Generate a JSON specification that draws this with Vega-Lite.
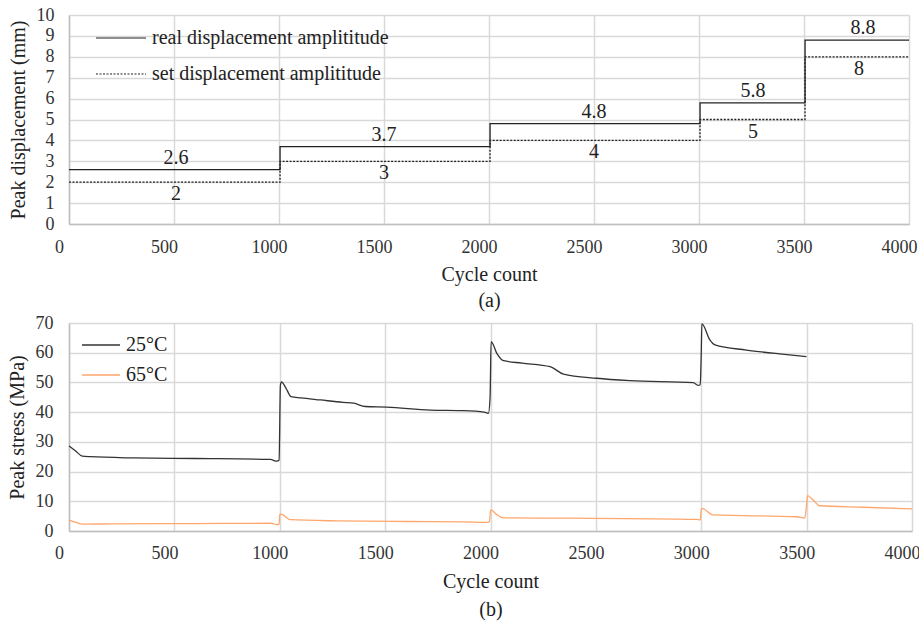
{
  "$schema": "https://vega.github.io/schema/vega-lite/v6.json",
  "background": "white",
  "padding": {"left": 7, "top": 6, "right": 2, "bottom": 5},
  "spacing": 4,
  "resolve": {"scale": {"color": "independent", "strokeDash": "independent"}, "legend": {"color": "independent", "strokeDash": "independent"}},
  "config": {
    "font": "Liberation Serif",
    "view": {"stroke": null},
    "text": {"font": "Liberation Serif"},
    "axis": {
      "labelFont": "Liberation Serif",
      "labelFontSize": 18,
      "labelColor": "#333333",
      "labelOverlap": false,
      "labelFlush": false,
      "format": "d",
      "titleFont": "Liberation Serif",
      "titleFontSize": 20,
      "titleFontWeight": "normal",
      "titleColor": "#222222",
      "gridColor": "#d9d9d9",
      "gridWidth": 1.5,
      "domainColor": "#bfbfbf",
      "domainWidth": 1.5,
      "ticks": false
    },
    "legend": {
      "labelFont": "Liberation Serif",
      "labelFontSize": 20,
      "labelColor": "#222222",
      "labelLimit": 500,
      "symbolType": "stroke",
      "padding": 0
    }
  },
  "vconcat": [
    {
      "width": 840,
      "height": 209,
      "encoding": {
        "x": {"field": "cycle", "type": "quantitative",
              "scale": {"domain": [0, 4000], "nice": false},
              "axis": {"values": [0, 500, 1000, 1500, 2000, 2500, 3000, 3500, 4000], "labelOffset": -10, "labelPadding": 14, "titlePadding": 8, "titleLineHeight": 26, "labelOverlap": false},
              "title": ["Cycle count", "(a)"]},
        "y": {"field": "disp", "type": "quantitative",
              "scale": {"domain": [0, 10], "nice": false},
              "axis": {"values": [0, 1, 2, 3, 4, 5, 6, 7, 8, 9, 10], "labelPadding": 15, "titlePadding": 8, "labelOverlap": false},
              "title": "Peak displacement (mm)"}
      },
      "layer": [
        {
          "data": {"values": [
            {"cycle": 0, "disp": 2.6, "series": "real displacement amplititude"},
            {"cycle": 1005, "disp": 3.7, "series": "real displacement amplititude"},
            {"cycle": 2005, "disp": 4.8, "series": "real displacement amplititude"},
            {"cycle": 3005, "disp": 5.8, "series": "real displacement amplititude"},
            {"cycle": 3505, "disp": 8.8, "series": "real displacement amplititude"},
            {"cycle": 4000, "disp": 8.8, "series": "real displacement amplititude"},
            {"cycle": 0, "disp": 2, "series": "set displacement amplititude"},
            {"cycle": 1005, "disp": 3, "series": "set displacement amplititude"},
            {"cycle": 2005, "disp": 4, "series": "set displacement amplititude"},
            {"cycle": 3005, "disp": 5, "series": "set displacement amplititude"},
            {"cycle": 3505, "disp": 8, "series": "set displacement amplititude"},
            {"cycle": 4000, "disp": 8, "series": "set displacement amplititude"}
          ]},
          "mark": {"type": "line", "interpolate": "step-after", "strokeWidth": 1.3},
          "encoding": {
            "color": {"field": "series", "type": "nominal",
                      "scale": {"domain": ["real displacement amplititude", "set displacement amplititude"], "range": ["#222222", "#222222"]},
                      "legend": {"title": null, "orient": "none", "legendX": 26, "legendY": -3, "symbolSize": 2500, "symbolStrokeWidth": 1.2, "rowPadding": -3, "labelOffset": 5}},
            "strokeDash": {"field": "series", "type": "nominal",
                      "scale": {"domain": ["real displacement amplititude", "set displacement amplititude"], "range": [[1, 0], [2, 1.5]]},
                      "legend": {"title": null, "orient": "none", "legendX": 26, "legendY": -3, "symbolSize": 2500, "symbolStrokeWidth": 1.2, "rowPadding": -3, "labelOffset": 5}}
          }
        },
        {
          "data": {"values": [
            {"cycle": 510, "disp": 2.6, "label": "2.6"},
            {"cycle": 1500, "disp": 3.7, "label": "3.7"},
            {"cycle": 2500, "disp": 4.8, "label": "4.8"},
            {"cycle": 3257, "disp": 5.8, "label": "5.8"},
            {"cycle": 3781, "disp": 8.8, "label": "8.8"}
          ]},
          "mark": {"type": "text", "dy": -12, "fontSize": 20, "font": "Liberation Serif", "color": "#222222", "baseline": "middle"},
          "encoding": {
            "text": {"field": "label", "type": "nominal"}
          }
        },
        {
          "data": {"values": [
            {"cycle": 510, "disp": 2, "label": "2"},
            {"cycle": 1500, "disp": 3, "label": "3"},
            {"cycle": 2500, "disp": 4, "label": "4"},
            {"cycle": 3257, "disp": 5, "label": "5"},
            {"cycle": 3762, "disp": 8, "label": "8"}
          ]},
          "mark": {"type": "text", "dy": 12, "fontSize": 20, "font": "Liberation Serif", "color": "#222222", "baseline": "middle"},
          "encoding": {
            "text": {"field": "label", "type": "nominal"}
          }
        }
      ]
    },
    {
      "width": 843,
      "height": 208,
      "data": {"values": [
        {"cycle": 0, "stress": 28.6, "temp": "25°C"},
        {"cycle": 30, "stress": 27.0, "temp": "25°C"},
        {"cycle": 63, "stress": 25.2, "temp": "25°C"},
        {"cycle": 100, "stress": 25.0, "temp": "25°C"},
        {"cycle": 300, "stress": 24.6, "temp": "25°C"},
        {"cycle": 600, "stress": 24.4, "temp": "25°C"},
        {"cycle": 956, "stress": 24.1, "temp": "25°C"},
        {"cycle": 985, "stress": 23.5, "temp": "25°C"},
        {"cycle": 997, "stress": 23.8, "temp": "25°C"},
        {"cycle": 1003, "stress": 49.0, "temp": "25°C"},
        {"cycle": 1008, "stress": 50.2, "temp": "25°C"},
        {"cycle": 1030, "stress": 48.0, "temp": "25°C"},
        {"cycle": 1054, "stress": 45.2, "temp": "25°C"},
        {"cycle": 1100, "stress": 44.8, "temp": "25°C"},
        {"cycle": 1193, "stress": 44.1, "temp": "25°C"},
        {"cycle": 1300, "stress": 43.3, "temp": "25°C"},
        {"cycle": 1351, "stress": 43.0, "temp": "25°C"},
        {"cycle": 1406, "stress": 41.9, "temp": "25°C"},
        {"cycle": 1509, "stress": 41.7, "temp": "25°C"},
        {"cycle": 1714, "stress": 40.7, "temp": "25°C"},
        {"cycle": 1872, "stress": 40.5, "temp": "25°C"},
        {"cycle": 1970, "stress": 40.0, "temp": "25°C"},
        {"cycle": 1990, "stress": 39.6, "temp": "25°C"},
        {"cycle": 1998, "stress": 45.0, "temp": "25°C"},
        {"cycle": 2003, "stress": 63.7, "temp": "25°C"},
        {"cycle": 2030, "stress": 59.8, "temp": "25°C"},
        {"cycle": 2062, "stress": 57.3, "temp": "25°C"},
        {"cycle": 2150, "stress": 56.5, "temp": "25°C"},
        {"cycle": 2283, "stress": 55.3, "temp": "25°C"},
        {"cycle": 2346, "stress": 52.8, "temp": "25°C"},
        {"cycle": 2504, "stress": 51.4, "temp": "25°C"},
        {"cycle": 2662, "stress": 50.6, "temp": "25°C"},
        {"cycle": 2962, "stress": 49.9, "temp": "25°C"},
        {"cycle": 2985, "stress": 49.0, "temp": "25°C"},
        {"cycle": 2995, "stress": 49.2, "temp": "25°C"},
        {"cycle": 3000, "stress": 60.0, "temp": "25°C"},
        {"cycle": 3003, "stress": 69.7, "temp": "25°C"},
        {"cycle": 3041, "stress": 64.3, "temp": "25°C"},
        {"cycle": 3065, "stress": 62.6, "temp": "25°C"},
        {"cycle": 3214, "stress": 60.9, "temp": "25°C"},
        {"cycle": 3372, "stress": 59.6, "temp": "25°C"},
        {"cycle": 3499, "stress": 58.7, "temp": "25°C"},
        {"cycle": 0, "stress": 3.7, "temp": "65°C"},
        {"cycle": 30, "stress": 3.0, "temp": "65°C"},
        {"cycle": 63, "stress": 2.3, "temp": "65°C"},
        {"cycle": 200, "stress": 2.4, "temp": "65°C"},
        {"cycle": 600, "stress": 2.5, "temp": "65°C"},
        {"cycle": 960, "stress": 2.6, "temp": "65°C"},
        {"cycle": 987, "stress": 2.1, "temp": "65°C"},
        {"cycle": 997, "stress": 2.3, "temp": "65°C"},
        {"cycle": 1000, "stress": 5.7, "temp": "65°C"},
        {"cycle": 1010, "stress": 5.6, "temp": "65°C"},
        {"cycle": 1050, "stress": 3.8, "temp": "65°C"},
        {"cycle": 1271, "stress": 3.4, "temp": "65°C"},
        {"cycle": 1600, "stress": 3.2, "temp": "65°C"},
        {"cycle": 1872, "stress": 3.1, "temp": "65°C"},
        {"cycle": 1985, "stress": 2.9, "temp": "65°C"},
        {"cycle": 1995, "stress": 3.2, "temp": "65°C"},
        {"cycle": 2001, "stress": 7.1, "temp": "65°C"},
        {"cycle": 2030, "stress": 5.5, "temp": "65°C"},
        {"cycle": 2062, "stress": 4.4, "temp": "65°C"},
        {"cycle": 2400, "stress": 4.3, "temp": "65°C"},
        {"cycle": 2978, "stress": 3.9, "temp": "65°C"},
        {"cycle": 2995, "stress": 3.7, "temp": "65°C"},
        {"cycle": 3000, "stress": 7.2, "temp": "65°C"},
        {"cycle": 3003, "stress": 7.6, "temp": "65°C"},
        {"cycle": 3057, "stress": 5.4, "temp": "65°C"},
        {"cycle": 3200, "stress": 5.2, "temp": "65°C"},
        {"cycle": 3452, "stress": 4.8, "temp": "65°C"},
        {"cycle": 3491, "stress": 4.3, "temp": "65°C"},
        {"cycle": 3500, "stress": 9.0, "temp": "65°C"},
        {"cycle": 3504, "stress": 11.9, "temp": "65°C"},
        {"cycle": 3530, "stress": 10.5, "temp": "65°C"},
        {"cycle": 3562, "stress": 8.5, "temp": "65°C"},
        {"cycle": 3768, "stress": 8.0, "temp": "65°C"},
        {"cycle": 4000, "stress": 7.4, "temp": "65°C"}
      ]},
      "mark": {"type": "line", "interpolate": "monotone", "strokeWidth": 1.3},
      "encoding": {
        "x": {"field": "cycle", "type": "quantitative",
              "scale": {"domain": [0, 4000], "nice": false},
              "axis": {"values": [0, 500, 1000, 1500, 2000, 2500, 3000, 3500, 4000], "labelOffset": -10, "labelPadding": 13, "titlePadding": 9, "titleLineHeight": 28, "labelOverlap": false},
              "title": ["Cycle count", "(b)"]},
        "y": {"field": "stress", "type": "quantitative",
              "scale": {"domain": [0, 70], "nice": false},
              "axis": {"values": [0, 10, 20, 30, 40, 50, 60, 70], "labelPadding": 16, "titlePadding": 8, "labelOverlap": false},
              "title": "Peak stress (MPa)"},
        "color": {"field": "temp", "type": "nominal",
                  "scale": {"domain": ["25°C", "65°C"], "range": ["#333333", "#ffa66b"]},
                  "legend": {"title": null, "orient": "none", "legendX": 12, "legendY": 2, "symbolSize": 1444, "symbolStrokeWidth": 1.3, "rowPadding": -4, "labelOffset": 5}}
      }
    }
  ]
}
